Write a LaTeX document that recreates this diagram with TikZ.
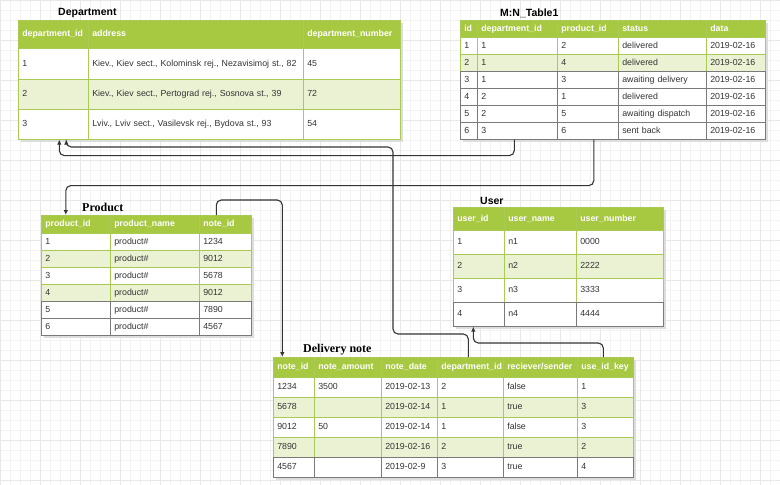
\documentclass[tikz,border=0pt]{standalone}
\usepackage{fontspec}
\setmainfont{Liberation Sans}
\newfontfamily\serifT{Liberation Serif}
\usetikzlibrary{arrows.meta}
\definecolor{hgreen}{HTML}{A7C942}
\definecolor{lgreen}{HTML}{EAF2D3}
\definecolor{bgreen}{HTML}{A9CA55}
\definecolor{gborder}{HTML}{7A7A7A}
\definecolor{txt}{HTML}{333333}
\definecolor{gridminor}{HTML}{F3F3F3}
\definecolor{gridmajor}{HTML}{E8E8E8}
\definecolor{shadowc}{HTML}{DDDDDD}
\newcommand\trow[7]{%
  \foreach \t [count=\i] in {#7} {%
    \pgfmathsetmacro\xa{#1[\i-1]}%
    \pgfmathsetmacro\xb{#1[\i]}%
    \pgfmathsetmacro\cw{\xb-\xa}%
    \pgfmathsetmacro\tw{\xb-\xa-8}%
    \pgfmathsetmacro\ch{#5-#4}%
    \node[cell,#6,minimum width=\cw pt,minimum height=\ch pt,text width=\tw pt,anchor=north west] (#2-#3-\i) at (\xa,#4) {\mbox{\t}};
  }}
\def\colsdep{{18,88,303,400}}
\def\colsmn{{460,477,557,618,706,765}}
\def\colspr{{41,110,199,251}}
\def\colsus{{453,504,576,663}}
\def\colsdn{{273,314,381,437,503,577,633}}
\begin{document}
\begin{tikzpicture}[x=1pt,y=-1pt,
  cell/.style={inner xsep=4pt,inner ysep=0pt,align=left,text height=6.5pt,text depth=2pt,
    font=\fontsize{8.8}{10}\selectfont,text=txt,line width=0.6pt},
  hdr/.style={fill=hgreen,draw=bgreen,text=white,font=\bfseries\fontsize{8.8}{10}\selectfont},
  plain/.style={fill=white,draw=bgreen},
  alt/.style={fill=lgreen,draw=bgreen},
  grayrow/.style={fill=white,draw=gborder},
  title/.style={anchor=west,inner sep=0pt,font=\bfseries\fontsize{10.5}{12}\selectfont,text=black},
  stitle/.style={anchor=west,inner sep=0pt,font=\serifT\bfseries\fontsize{12}{14}\selectfont,text=black},
  conn/.style={draw=txt,line width=1.1pt,rounded corners=5pt,-{Latex[length=5pt,width=4.5pt]}}]
\useasboundingbox (0,0) rectangle (780,485);
\fill[white] (0,0) rectangle (780,485);
\foreach \gx in {0,10,...,780} {\draw[gridminor,line width=0.5pt] (\gx,0) -- (\gx,485);}
\foreach \gy in {0,10,...,480} {\draw[gridminor,line width=0.5pt] (0,\gy) -- (780,\gy);}
\foreach \gx in {0,40,...,780} {\draw[gridmajor,line width=0.5pt] (\gx,0) -- (\gx,485);}
\foreach \gy in {0,40,...,480} {\draw[gridmajor,line width=0.5pt] (0,\gy) -- (780,\gy);}
% shadows
\fill[shadowc] (21,23) rectangle (403,142);
\fill[shadowc] (463,23) rectangle (768,142);
\fill[shadowc] (44,218) rectangle (254,338);
\fill[shadowc] (456,210) rectangle (666,329);
\fill[shadowc] (276,360) rectangle (636,480);
% titles
\node[title] (tdep) at (58,13) {Department};
\node[title] (tmn) at (500,13) {M:N\_Table1};
\node[stitle] (tpr) at (82,207) {Product};
\node[title] (tus) at (480,201) {User};
\node[stitle] (tdn) at (303,350) {Delivery note};
% Department
\trow{\colsdep}{dep}{0}{20}{48}{hdr}{department\_id,address,department\_number}
\trow{\colsdep}{dep}{1}{48}{79}{plain}{1,{Kiev., Kiev sect., Kolominsk rej., Nezavisimoj st., 82},45}
\trow{\colsdep}{dep}{2}{79}{109}{alt}{2,{Kiev., Kiev sect., Pertograd rej., Sosnova st., 39},72}
\trow{\colsdep}{dep}{3}{109}{139}{plain}{3,{Lviv., Lviv sect., Vasilevsk rej., Bydova st., 93},54}
% M:N
\trow{\colsmn}{mn}{0}{20}{37}{hdr}{id,department\_id,product\_id,status,data}
\trow{\colsmn}{mn}{1}{37}{54}{plain}{1,1,2,delivered,2019-02-16}
\trow{\colsmn}{mn}{2}{54}{71}{alt}{2,1,4,delivered,2019-02-16}
\trow{\colsmn}{mn}{3}{71}{88}{grayrow}{3,1,3,awaiting delivery,2019-02-16}
\trow{\colsmn}{mn}{4}{88}{105}{grayrow}{4,2,1,delivered,2019-02-16}
\trow{\colsmn}{mn}{5}{105}{122}{grayrow}{5,2,5,awaiting dispatch,2019-02-16}
\trow{\colsmn}{mn}{6}{122}{139}{grayrow}{6,3,6,sent back,2019-02-16}
% Product
\trow{\colspr}{pr}{0}{215}{233}{hdr}{product\_id,product\_name,note\_id}
\trow{\colspr}{pr}{1}{233}{250}{plain}{1,product\#,1234}
\trow{\colspr}{pr}{2}{250}{267}{alt}{2,product\#,9012}
\trow{\colspr}{pr}{3}{267}{284}{plain}{3,product\#,5678}
\trow{\colspr}{pr}{4}{284}{301}{alt}{4,product\#,9012}
\trow{\colspr}{pr}{5}{301}{318}{grayrow}{5,product\#,7890}
\trow{\colspr}{pr}{6}{318}{335}{grayrow}{6,product\#,4567}
% User
\trow{\colsus}{us}{0}{207}{230}{hdr}{user\_id,user\_name,user\_number}
\trow{\colsus}{us}{1}{230}{254}{plain}{1,n1,0000}
\trow{\colsus}{us}{2}{254}{278}{alt}{2,n2,2222}
\trow{\colsus}{us}{3}{278}{302}{plain}{3,n3,3333}
\trow{\colsus}{us}{4}{302}{326}{grayrow}{4,n4,4444}
% Delivery note
\trow{\colsdn}{dn}{0}{357}{377}{hdr}{note\_id,note\_amount,note\_date,department\_id,reciever/sender,use\_id\_key}
\trow{\colsdn}{dn}{1}{377}{397}{plain}{1234,3500,2019-02-13,2,false,1}
\trow{\colsdn}{dn}{2}{397}{417}{alt}{5678,{},2019-02-14,1,true,3}
\trow{\colsdn}{dn}{3}{417}{437}{plain}{9012,50,2019-02-14,1,false,3}
\trow{\colsdn}{dn}{4}{437}{457}{alt}{7890,{},2019-02-16,2,true,2}
\trow{\colsdn}{dn}{5}{457}{477}{grayrow}{4567,{},2019-02-9,3,true,4}
% connectors
\coordinate (dbend) at (393,147);
\draw[conn] ([xshift=-3]mn-6-2.south) -- ++(0,16) -| ([xshift=6]dep-3-1.south);
\draw[conn] ([xshift=6]mn-6-3.south) -- ++(0,46) -| ([xshift=-10]pr-0-1.north);
\draw[conn] ([xshift=-9]pr-0-3.north) -- ++(0,-15) -| ([xshift=-11.5]dn-0-1.north);
\draw[conn] ([xshift=-2]dn-0-4.north) -- ++(0,-23) -| (dbend) -| ([xshift=13]dep-3-1.south);
\draw[conn] ([xshift=-2]dn-0-6.north) -- ++(0,-14) -| ([xshift=-5.5]us-4-1.south);
\end{tikzpicture}
\end{document}
